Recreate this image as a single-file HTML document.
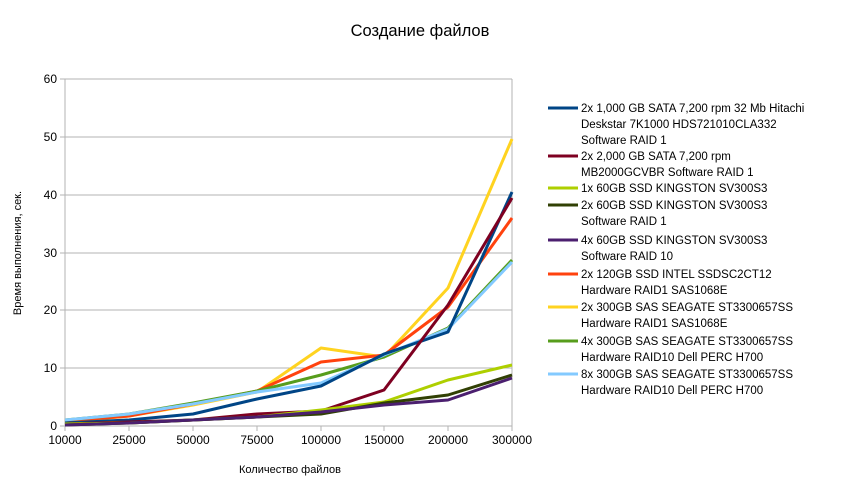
<!DOCTYPE html>
<html><head><meta charset="utf-8"><style>
body{margin:0;background:#fff}
svg{display:block;font-family:"Liberation Sans",sans-serif}
</style></head><body>
<svg width="841" height="494" viewBox="0 0 841 494">
<rect width="841" height="494" fill="#fff"/>
<text x="420" y="36" font-size="16.5" text-anchor="middle">Создание файлов</text>
<g stroke="#b3b3b3" stroke-width="1">
<line x1="65" y1="79" x2="512" y2="79"/>
<line x1="65" y1="137" x2="512" y2="137"/>
<line x1="65" y1="195" x2="512" y2="195"/>
<line x1="65" y1="253" x2="512" y2="253"/>
<line x1="65" y1="310" x2="512" y2="310"/>
<line x1="65" y1="368" x2="512" y2="368"/>
<line x1="65" y1="426" x2="512" y2="426"/>
<line x1="65" y1="79" x2="65" y2="431"/>
<line x1="512" y1="79" x2="512" y2="431"/>
<line x1="60" y1="79" x2="65" y2="79"/><line x1="60" y1="137" x2="65" y2="137"/><line x1="60" y1="195" x2="65" y2="195"/><line x1="60" y1="253" x2="65" y2="253"/><line x1="60" y1="310" x2="65" y2="310"/><line x1="60" y1="368" x2="65" y2="368"/><line x1="60" y1="426" x2="65" y2="426"/>
<line x1="129" y1="426" x2="129" y2="431"/><line x1="193" y1="426" x2="193" y2="431"/><line x1="257" y1="426" x2="257" y2="431"/><line x1="321" y1="426" x2="321" y2="431"/><line x1="384" y1="426" x2="384" y2="431"/><line x1="448" y1="426" x2="448" y2="431"/>
</g>
<g font-size="12" text-anchor="end">
<text x="57" y="83">60</text><text x="57" y="141">50</text><text x="57" y="199">40</text><text x="57" y="257">30</text><text x="57" y="314">20</text><text x="57" y="372">10</text><text x="57" y="430">0</text>
</g>
<g font-size="12" text-anchor="middle">
<text x="65" y="444">10000</text><text x="129" y="444">25000</text><text x="193" y="444">50000</text><text x="257" y="444">75000</text><text x="321" y="444">100000</text><text x="384" y="444">150000</text><text x="448" y="444">200000</text><text x="512" y="444">300000</text>
</g>
<text x="290" y="473" font-size="11" text-anchor="middle">Количество файлов</text>
<text transform="translate(21,253) rotate(-90)" font-size="11" text-anchor="middle">Время выполнения, сек.</text>
<g fill="none" stroke-width="3" stroke-linejoin="round">
<polyline stroke="#ffd320" points="65,422 129,416 193,405 257,392 321,348 384,357 448,288 512,139"/>
<polyline stroke="#ff420e" points="65,421 129,416 193,404 257,391 321,362 384,355 448,307 512,218"/>
<polyline stroke="#579d1c" points="65,420 129,414 193,403 257,391 321,375 384,357 448,328 512,260"/>
<polyline stroke="#83caff" points="65,420 129,414 193,404 257,392 321,383 384,355 448,329 512,262"/>
<polyline stroke="#004586" points="65,423 129,420 193,414 257,399 321,386 384,354 448,332 512,192"/>
<polyline stroke="#7e0021" points="65,424 129,422 193,420 257,414 321,411 384,390 448,305 512,198"/>
<polyline stroke="#aecf00" points="65,424 129,423 193,420 257,417 321,410 384,402 448,380 512,365"/>
<polyline stroke="#314004" points="65,425 129,423 193,420 257,417 321,414 384,403 448,395 512,375"/>
<polyline stroke="#4b1f6f" points="65,425 129,423 193,420 257,417 321,412 384,405 448,400 512,378"/>
</g>
<g stroke-width="3">
<line x1="548" y1="108" x2="578" y2="108" stroke="#004586"/>
<line x1="548" y1="156" x2="578" y2="156" stroke="#7e0021"/>
<line x1="548" y1="188" x2="578" y2="188" stroke="#aecf00"/>
<line x1="548" y1="205" x2="578" y2="205" stroke="#314004"/>
<line x1="548" y1="240" x2="578" y2="240" stroke="#4b1f6f"/>
<line x1="548" y1="274" x2="578" y2="274" stroke="#ff420e"/>
<line x1="548" y1="307" x2="578" y2="307" stroke="#ffd320"/>
<line x1="548" y1="341" x2="578" y2="341" stroke="#579d1c"/>
<line x1="548" y1="374" x2="578" y2="374" stroke="#83caff"/>
</g>
<g font-size="11.5">
<text x="581" y="112">2x 1,000 GB SATA 7,200 rpm 32 Mb Hitachi</text>
<text x="581" y="128">Deskstar 7K1000 HDS721010CLA332</text>
<text x="581" y="144">Software RAID 1</text>
<text x="581" y="160">2x 2,000 GB SATA 7,200 rpm</text>
<text x="581" y="176">MB2000GCVBR Software RAID 1</text>
<text x="581" y="192">1x 60GB SSD KINGSTON SV300S3</text>
<text x="581" y="209">2x 60GB SSD KINGSTON SV300S3</text>
<text x="581" y="225">Software RAID 1</text>
<text x="581" y="244">4x 60GB SSD KINGSTON SV300S3</text>
<text x="581" y="260">Software RAID 10</text>
<text x="581" y="278">2x 120GB SSD INTEL SSDSC2CT12</text>
<text x="581" y="294">Hardware RAID1 SAS1068E</text>
<text x="581" y="311">2x 300GB SAS SEAGATE ST3300657SS</text>
<text x="581" y="327">Hardware RAID1 SAS1068E</text>
<text x="581" y="345">4x 300GB SAS SEAGATE ST3300657SS</text>
<text x="581" y="361">Hardware RAID10 Dell PERC H700</text>
<text x="581" y="378">8x 300GB SAS SEAGATE ST3300657SS</text>
<text x="581" y="394">Hardware RAID10 Dell PERC H700</text>
</g>
</svg>
</body></html>
